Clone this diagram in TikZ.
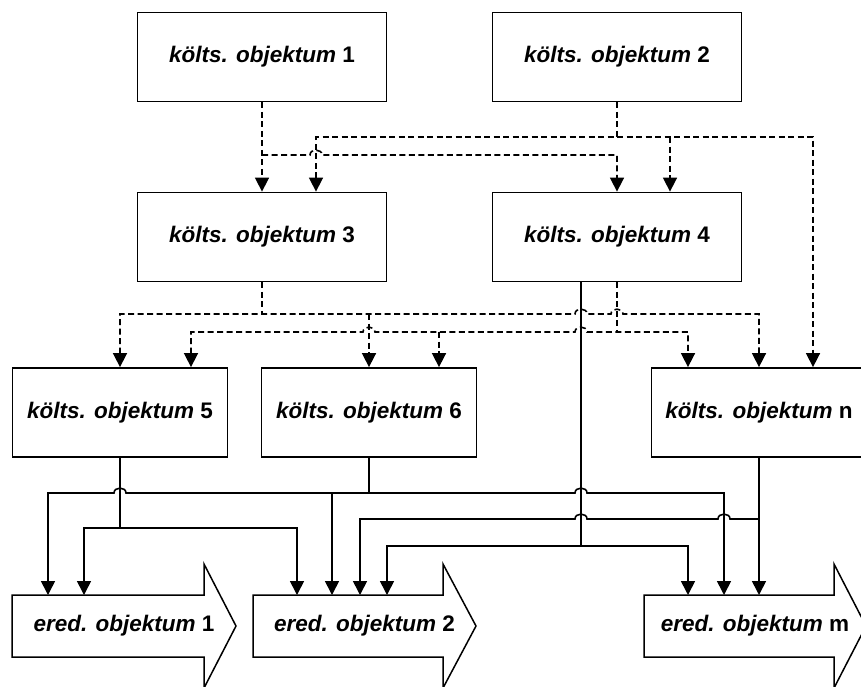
\documentclass[tikz,border=0pt]{standalone}
\usepackage{fontspec}
\setmainfont{Liberation Sans}
\usetikzlibrary{arrows.meta, positioning, calc}

% small bridge where a line jumps over a crossing one
\newcommand{\hopover}[2]{-- ({#1-6},#2) .. controls ({#1-6},{#2-6.5}) and ({#1+6},{#2-6.5}) .. ({#1+6},#2)}

\begin{document}
\begin{tikzpicture}[x=1pt, y=-1pt,
    >={Triangle[length=14pt,width=14pt]},
    kbox/.style={draw, line width=1.8pt, minimum width=#1, minimum height=89pt,
      font=\bfseries\fontsize{22.5}{24}\selectfont},
    kbox/.default=249pt,
    ebox/.style={draw, line width=1.5pt},
    etext/.style={font=\bfseries\fontsize{22.5}{24}\selectfont},
    flow/.style={line width=1.6pt},
    dep/.style={flow, dash pattern=on 6pt off 3.5pt}]
      \useasboundingbox (0,0) rectangle (861,686);

      \node[kbox] (k1) at (262,57) {\textit{költs. objektum} 1};
      \node[kbox] (k2) at (617,57) {\textit{költs. objektum} 2};
      \node[kbox] (k3) at (262,237) {\textit{költs. objektum} 3};
      \node[kbox] (k4) at (617,237) {\textit{költs. objektum} 4};
      \node[kbox=215pt] (k5) at (120,412.5) {\textit{költs. objektum} 5};
      \node[kbox=215pt] (k6) at (369,412.5) {\textit{költs. objektum} 6};
      \node[kbox=215pt] (kn) at (759,412.5) {\textit{költs. objektum} n};

      \foreach \n/\l/\b/\t/\lab in {e1/12/204/236/1, e2/253/443/476/2, em/644/834/866/m}
        \draw[ebox] (\l,595) coordinate (\n) -- (\b,595) -- (\b,564) -- (\t,626) -- (\b,688)
          -- (\b,657) -- (\l,657) -- cycle
          ({(\l+\t)/2},626) node[etext] (\n text) {\textit{ered. objektum} \lab};

      % dashed links, first level
      \draw[dep,->] (k1) -- (k3);
      \draw[dep,->] (262,155) \hopover{316}{155} -- (617,155) -- (k4);
      \draw[dep] (k2) -- (617,137);
      \draw[dep,<->] (k3.north -| 316,0) |- (813,137) -- (kn.north -| 813,0);
      \draw[dep,->] (670,137) -- (k4.north -| 670,0);

      % dashed links, second level
      \draw[dep] (k3) -- (262,314);
      \draw[dep] (k4) -- (617,332);
      \draw[dep,<->] (k5) -- (120,314) \hopover{581}{314} \hopover{617}{314} -- (759,314) -- (kn);
      \draw[dep,->] (369,314) -- (k6);
      \draw[dep,<->] (k5.north -| 191,0) -- (191,332) \hopover{369}{332} \hopover{581}{332}
        -- (688,332) -- (kn.north -| 688,0);
      \draw[dep,->] (439,332) -- (k6.north -| 439,0);

      % solid links to the ered. objects
      \draw[flow] (k4.south -| 581,0) -- (581,546);
      \draw[flow,<->] (e2 -| 387,0) -- (387,546) -| (em -| 688,0);
      \draw[flow,->] (k5) -- (120,528) -| (e1 -| 84,0);
      \draw[flow,->] (120,528) -| (e2 -| 297,0);
      \draw[flow] (k6) -- (369,493);
      \draw[flow,<->] (e1 -| 48,0) -- (48,493) \hopover{120}{493} \hopover{581}{493}
        -- (724,493) -- (em -| 724,0);
      \draw[flow,->] (332,493) -- (e2 -| 332,0);
      \draw[flow,->] (kn) -- (em -| 759,0);
      \draw[flow,<-] (e2 -| 360,0) -- (360,519) \hopover{581}{519} \hopover{724}{519} -- (759,519);

    \end{tikzpicture}
\end{document}
